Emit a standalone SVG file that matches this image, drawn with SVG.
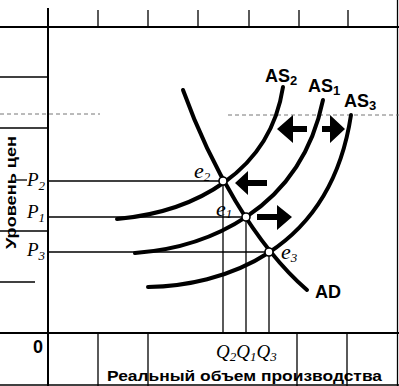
<svg xmlns="http://www.w3.org/2000/svg" width="399" height="386" viewBox="0 0 399 386">
<style>
.frame{stroke:#000;stroke-width:2;fill:none}
.thin{stroke:#000;stroke-width:1.3;fill:none}
.faint{stroke:#666;stroke-width:0.9;fill:none;stroke-dasharray:4 3}
.curve{stroke:#000;stroke-width:4;fill:none;stroke-linecap:round}
.pt{fill:#fff;stroke:#000;stroke-width:1.6}
.it{font-family:"Liberation Serif",serif;font-style:italic;font-size:19px;fill:#000}
.ei{font-size:22px}
.sub{font-size:13px}
.lab{font-family:"Liberation Sans",Arial,sans-serif;font-weight:bold;font-size:18px;fill:#000}
.ax{font-family:"Liberation Sans",Arial,sans-serif;font-weight:bold;font-size:15px;fill:#000}
.arrow{fill:#000}
</style>
<g id="grid">
<line class="frame" x1="0" y1="27" x2="399" y2="27"/>
<line class="frame" x1="0" y1="333" x2="399" y2="333"/>
<line class="frame" x1="48" y1="8" x2="48" y2="386"/>
<line class="thin" x1="397.5" y1="0" x2="397.5" y2="386"/>
<line class="thin" x1="0" y1="385" x2="399" y2="385"/>
<line class="thin" x1="98" y1="10" x2="98" y2="27"/>
<line class="thin" x1="148" y1="10" x2="148" y2="27"/>
<line class="thin" x1="198" y1="10" x2="198" y2="27"/>
<line class="thin" x1="249" y1="10" x2="249" y2="27"/>
<line class="thin" x1="299" y1="10" x2="299" y2="27"/>
<line class="thin" x1="348" y1="10" x2="348" y2="27"/>
<line class="thin" x1="98" y1="333" x2="98" y2="386"/>
<line class="thin" x1="148" y1="333" x2="148" y2="386"/>
<line class="thin" x1="297" y1="333" x2="297" y2="386"/>
<line class="thin" x1="347" y1="333" x2="347" y2="386"/>
<line class="thin" x1="0" y1="77" x2="48" y2="77"/>
<line class="thin" x1="0" y1="128" x2="48" y2="128"/>
<line class="thin" x1="0" y1="231" x2="48" y2="231"/>
<line class="thin" x1="0" y1="282" x2="35" y2="282"/>
<line class="faint" x1="0" y1="114" x2="100" y2="114"/>
<line class="faint" x1="228" y1="115" x2="399" y2="115"/>
</g>
<g id="guides">
<line class="thin" x1="16" y1="180" x2="27" y2="180"/>
<line class="thin" x1="48" y1="181" x2="223" y2="181"/>
<line class="thin" x1="48" y1="217" x2="246" y2="217"/>
<line class="thin" x1="48" y1="252" x2="269" y2="252"/>
<line class="thin" x1="223" y1="181" x2="223" y2="333"/>
<line class="thin" x1="246" y1="217" x2="246" y2="333"/>
<line class="thin" x1="269" y1="252" x2="269" y2="333"/>
</g>
<g id="connectors">
<path id="AS2" class="curve" d="M117,219 C195,212 270,172 283,87"/>
<path id="AS1" class="curve" d="M135,253 C205,248 300,212 323,100"/>
<path id="AS3" class="curve" d="M148,287 C220,286 330,254 351,115"/>
<path id="AD" class="curve" d="M183,90 C210,165 255,245 307,290"/>
</g>
<g id="arrows">
<path class="arrow" d="M277,129 L293,115 L293,126 L307,126 L307,132 L293,132 L293,143 Z"/>
<path class="arrow" d="M345,129 L330,115 L330,126 L322,126 L322,132 L330,132 L330,143 Z"/>
<path class="arrow" d="M235,183 L248,171 L248,180 L267,180 L267,186 L248,186 L248,195 Z"/>
<path class="arrow" d="M292,217 L277,205 L277,214 L257,214 L257,220 L277,220 L277,230 Z"/>
</g>
<g id="points">
<circle id="e2" class="pt" cx="223" cy="181" r="4"/>
<circle id="e1" class="pt" cx="246" cy="217" r="4"/>
<circle id="e3" class="pt" cx="269" cy="252" r="4"/>
</g>
<g id="labels">
<text class="it ei" x="194" y="178">e<tspan class="sub" dy="3">2</tspan></text>
<text class="it ei" x="216" y="216">e<tspan class="sub" dy="2">1</tspan></text>
<text class="it ei" x="281" y="259">e<tspan class="sub" dy="3">3</tspan></text>
<text class="it" x="27" y="186">P<tspan class="sub" dy="4">2</tspan></text>
<text class="it" x="27" y="218">P<tspan class="sub" dy="4">1</tspan></text>
<text class="it" x="27" y="256">P<tspan class="sub" dy="4">3</tspan></text>
<text class="lab" x="265" y="82">AS<tspan class="sub" dy="3">2</tspan></text>
<text class="lab" x="308" y="92">AS<tspan class="sub" dy="3">1</tspan></text>
<text class="lab" x="344" y="107">AS<tspan class="sub" dy="3">3</tspan></text>
<text class="lab" x="315" y="298">AD</text>
<text class="it" x="216" y="358">Q<tspan class="sub" dy="3">2</tspan><tspan dy="-3">Q</tspan><tspan class="sub" dy="3">1</tspan><tspan dy="-3">Q</tspan><tspan class="sub" dy="3">3</tspan></text>
<text class="lab" x="33" y="353" font-size="16">0</text>
<text class="ax" x="107" y="381" textLength="275" lengthAdjust="spacingAndGlyphs">Реальный объем производства</text>
<text class="ax" transform="translate(16,249) rotate(-90)" x="0" y="0" font-size="16" textLength="113" lengthAdjust="spacingAndGlyphs">Уровень цен</text>
</g>
</svg>
